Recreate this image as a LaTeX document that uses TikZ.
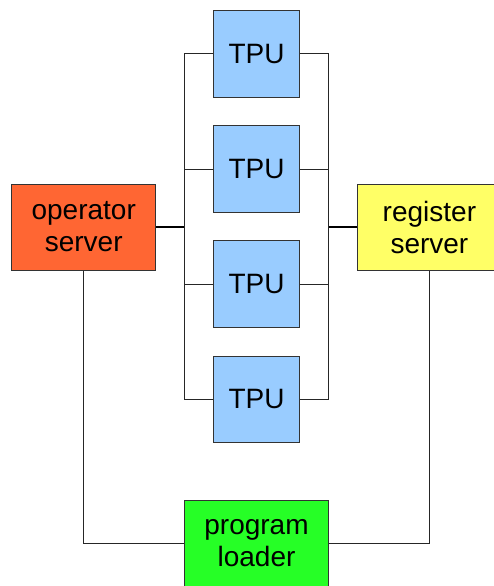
\documentclass[tikz,border=0pt]{standalone}
\usepackage{fontspec}
\setmainfont{Liberation Sans}
\definecolor{opc}{HTML}{FF6633}
\definecolor{regc}{HTML}{FFFF66}
\definecolor{tpuc}{HTML}{99CCFF}
\definecolor{plc}{HTML}{26FF26}
\begin{document}
\begin{tikzpicture}[x=1pt,y=-1pt,
  box/.style={draw=black!80,line width=1pt,inner sep=0pt,align=center,
    font=\fontsize{28}{32}\selectfont},
  bigbox/.style={box,minimum width=144pt,minimum height=86pt},
  tpubox/.style={box,fill=tpuc,minimum width=86.5pt,minimum height=86.5pt},
  wire/.style={draw=black!85,line width=1pt},
  thickwire/.style={draw=black,line width=2pt}]
\useasboundingbox (0,0) rectangle (494,586);
\clip (0,0) rectangle (494,586);
\coordinate (bl) at (184,227);
\coordinate (br) at (328.5,227);
% wires (behind nodes)
\node[bigbox,fill=opc] (op) at (83.7,227) {operator\\server};
\node[bigbox,fill=regc,minimum width=143pt] (reg) at (429.4,227) {register\\server};
\node[bigbox,fill=plc] (pl) at (256.5,543.3) {program\\loader};
\node[tpubox] (t1) at (256.5,54) {TPU};
\node[tpubox] (t2) at (256.5,169) {TPU};
\node[tpubox] (t3) at (256.5,284) {TPU};
\node[tpubox] (t4) at (256.5,399.3) {TPU};
\begin{scope}[on background layer/.style={}]
\draw[wire] (t1.west) -| (bl);
\draw[wire] (t4.west) -| (bl);
\draw[wire] (t2.west) -- (t2.west -| bl);
\draw[wire] (t3.west) -- (t3.west -| bl);
\draw[wire] (t1.east) -| (br);
\draw[wire] (t4.east) -| (br);
\draw[wire] (t2.east) -- (t2.east -| br);
\draw[wire] (t3.east) -- (t3.east -| br);
\draw[thickwire] (op.east) -- (bl);
\draw[thickwire] (reg.west) -- (br);
\draw[wire] (op.south) |- (pl.west);
\draw[wire] (reg.south) |- (pl.east);
\end{scope}
\end{tikzpicture}
\end{document}
